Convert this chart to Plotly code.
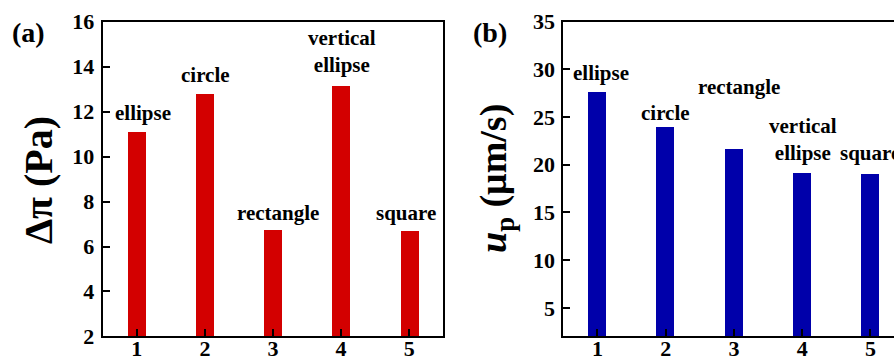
import plotly.graph_objects as go

# ---------------- data ----------------
positions = [1, 2, 3, 4, 5]
tick_labels = ["1", "2", "3", "4", "5"]
shape_names_a = ["ellipse", "circle", "rectangle", "vertical<br>ellipse", "square"]
shape_names_b = ["ellipse", "circle", "rectangle", "vertical<br>ellipse", "square"]
delta_pi_pa = [11.1, 12.8, 6.75, 13.15, 6.72]
u_p_um_s = [27.7, 24.0, 21.7, 19.2, 19.05]
y_ticks_a = [2, 4, 6, 8, 10, 12, 14, 16]
y_ticks_b = [5, 10, 15, 20, 25, 30, 35]

# ---------------- styling ----------------
W, H = 894, 356
FONT = "Liberation Serif"
RED = "#D30000"
BLUE = "#0000AA"

# per-label pixel offsets (x, y) from bar top
shift_a = [(6, 5), (1, 5), (5, 3), (1, 7), (-3, 3)]
shift_b = [(4, 4), (0, 0), (5, 48), (1, 5), (0, 7)]

fig = go.Figure()
fig.add_trace(go.Bar(x=positions, y=delta_pi_pa, width=0.265, marker=dict(color=RED, line=dict(width=0)),
                     xaxis="x", yaxis="y", showlegend=False))
fig.add_trace(go.Bar(x=positions, y=u_p_um_s, width=0.265, marker=dict(color=BLUE, line=dict(width=0)),
                     xaxis="x2", yaxis="y2", showlegend=False))

tickfont = dict(family=FONT, size=22, color="black", weight="bold")
common_x = dict(tickmode="array", tickvals=positions, ticktext=tick_labels, ticks="inside", ticklen=7,
                tickwidth=2, tickcolor="black", showline=True, linewidth=2, linecolor="black",
                showgrid=False, zeroline=False, tickfont=tickfont, fixedrange=True, ticklabelstandoff=-9,
                automargin=False)
common_y = dict(ticks="inside", ticklen=7, tickwidth=2, tickcolor="black", showline=True, linewidth=2,
                linecolor="black", showgrid=False, zeroline=False, tickfont=tickfont, fixedrange=True,
                ticklabelstandoff=2, automargin=False)

ydom = [0.055, 0.939]
fig.update_layout(
    width=W, height=H, margin=dict(l=0, r=0, t=0, b=0, autoexpand=False),
    paper_bgcolor="white", plot_bgcolor="white", bargap=0,
    xaxis=dict(domain=[102.7 / W, 443.3 / W], range=[0.5, 5.5], mirror=True, anchor="y", **common_x),
    yaxis=dict(domain=ydom, range=[2, 16], tickvals=y_ticks_a, mirror=True, anchor="x", **common_y),
    xaxis2=dict(domain=[563.3 / W, 1.0], range=[0.5, 5.345], mirror=True, anchor="y2", **common_x),
    yaxis2=dict(domain=ydom, range=[2, 35], tickvals=y_ticks_b, mirror=False, anchor="x2", **common_y),
)

lab_font = dict(family=FONT, size=21, color="black", weight="bold")
for i, (xv, yv, name) in enumerate(zip(positions, delta_pi_pa, shape_names_a)):
    fig.add_annotation(x=xv, y=yv, xref="x", yref="y", text=name, showarrow=False,
                       yanchor="bottom", xanchor="center", xshift=shift_a[i][0], yshift=shift_a[i][1],
                       font=lab_font, align="center")
for i, (xv, yv, name) in enumerate(zip(positions, u_p_um_s, shape_names_b)):
    fig.add_annotation(x=xv, y=yv, xref="x2", yref="y2", text=name, showarrow=False,
                       yanchor="bottom", xanchor="center", xshift=shift_b[i][0], yshift=shift_b[i][1],
                       font=lab_font, align="center")

# axis titles
fig.add_annotation(x=38 / W, y=(H - 180) / H, xref="paper", yref="paper", text="Δπ (Pa)",
                   textangle=-90, showarrow=False, xanchor="center", yanchor="middle",
                   font=dict(family=FONT, size=40, color="black", weight="bold"))
fig.add_annotation(x=496 / W, y=(H - 179) / H, xref="paper", yref="paper",
                   text="<i>u</i><sub>p</sub> (μm/s)",
                   textangle=-90, showarrow=False, xanchor="center", yanchor="middle",
                   font=dict(family=FONT, size=38, color="black", weight="bold"))

# panel labels
panel_font = dict(family=FONT, size=28, color="black", weight="bold")
fig.add_annotation(x=29 / W, y=(H - 32) / H, xref="paper", yref="paper", text="(a)",
                   showarrow=False, xanchor="center", yanchor="middle", font=panel_font)
fig.add_annotation(x=490 / W, y=(H - 33) / H, xref="paper", yref="paper", text="(b)",
                   showarrow=False, xanchor="center", yanchor="middle", font=panel_font)

fig.write_html("out.html")
